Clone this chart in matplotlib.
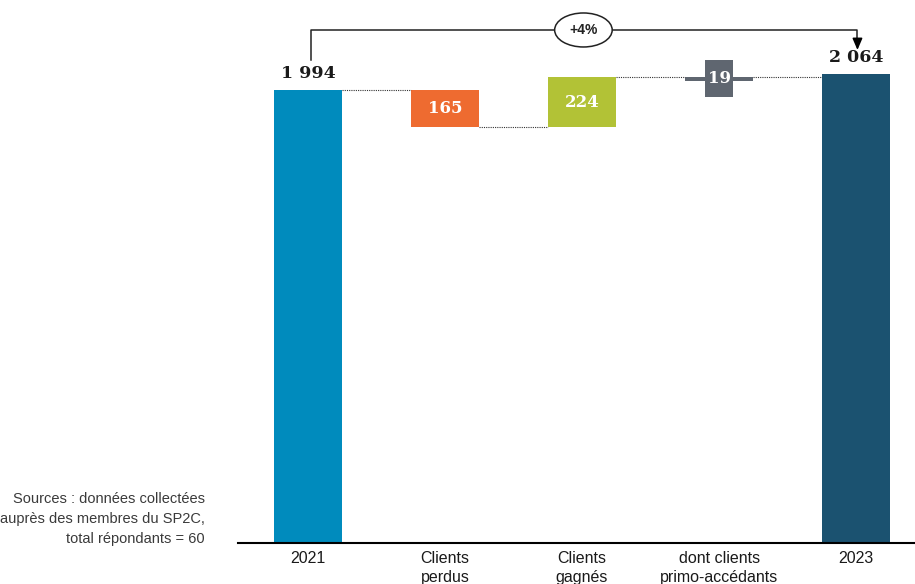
import matplotlib
matplotlib.use("Agg")
import matplotlib.pyplot as plt
from matplotlib.patches import Ellipse, Rectangle

# Waterfall: clients 2021 -> 2023
categories = ["2021", "Clients\nperdus", "Clients\ngagnés", "dont clients\nprimo-accédants", "2023"]
start_total = 1994
lost = 165
gained = 224
first_time = 19
end_total = 2064
growth_label = "+4%"
source_note = "Sources : données collectées\nauprès des membres du SP2C,\ntotal répondants = 60"

C_START = "#008bbd"
C_LOST = "#ee6b30"
C_GAINED = "#b2c236"
C_FIRST = "#5f6670"
C_END = "#1b5270"

SANS = ["Liberation Sans", "DejaVu Sans"]
SERIF = ["DejaVu Serif"]
PX = 0.2272  # pixels per unit on the value axis


def fmt(v):
    return f"{v:,}".replace(",", " ")


fig = plt.figure(figsize=(9.15, 5.84), dpi=100)
ax = fig.add_axes([238 / 915, 41 / 584, 1 - 238 / 915, 543 / 584])
ax.set_xlim(-0.511, 4.43)
ax.set_ylim(0, 543 / PX)
ax.axis("off")

w = 0.5
after_lost = start_total - lost
after_gained = after_lost + gained

ax.bar(0, start_total, width=w, color=C_START)
ax.bar(1, lost, bottom=after_lost, width=w, color=C_LOST)
ax.bar(2, gained, bottom=after_lost, width=w, color=C_GAINED)
ax.bar(3, first_time, bottom=after_gained - first_time, width=w, color=C_FIRST)
ax.bar(4, end_total, width=w, color=C_END)

# dotted connectors between steps
conn = dict(color="#333333", lw=0.8, ls=(0, (1, 1)))
ax.plot([0 + w / 2, 1 - w / 2], [start_total] * 2, **conn)
ax.plot([1 + w / 2, 2 - w / 2], [after_lost] * 2, **conn)
ax.plot([2 + w / 2, 3 - w / 2], [after_gained] * 2, **conn)
ax.plot([3 + w / 2, 4 - w / 2], [after_gained] * 2, **conn)

# baseline
ax.plot([-0.511, 4.43], [0, 0], color="black", lw=1.5, clip_on=False)

# totals above the end bars
for x, v in [(0, start_total), (4, end_total)]:
    ax.annotate(fmt(v), (x, v), xytext=(0, 6), textcoords="offset points",
                ha="center", va="bottom", fontsize=12.5, fontweight="bold",
                family=SERIF, color="#1a1a1a")

# step values inside the bars
ax.text(1, after_lost + lost / 2, str(lost), ha="center", va="center",
        fontsize=12, fontweight="bold", family=SERIF, color="white")
ax.text(2, after_lost + gained / 2, str(gained), ha="center", va="center",
        fontsize=12, fontweight="bold", family=SERIF, color="white")
mid = after_gained - first_time / 2
ax.add_patch(Rectangle((3 - 0.105, mid - 82), 0.21, 164, fc=C_FIRST, ec="none",
                       zorder=3))
ax.text(3, mid, str(first_time), ha="center", va="center", fontsize=12,
        fontweight="bold", family=SERIF, color="white", zorder=4)

# growth bracket
ytop = 2258
ax.plot([0.02, 0.02, 4.01, 4.01], [2128, ytop, ytop, 2215], color="#222222",
        lw=1.1, clip_on=False)
ax.annotate("", xy=(4.01, 2170), xytext=(4.01, 2220),
            arrowprops=dict(arrowstyle="-|>,head_width=0.3,head_length=0.7",
                            color="black", lw=1.1, shrinkA=0, shrinkB=0),
            annotation_clip=False)
ax.add_patch(Ellipse((2.01, ytop), 0.42, 34 / PX, fc="white", ec="#222222",
                     lw=1.1, clip_on=False, zorder=3))
ax.text(2.01, ytop, growth_label, ha="center", va="center", fontsize=10,
        fontweight="bold", family=SANS, color="#222222", zorder=4)

# category labels
for i, lab in enumerate(categories):
    ax.text(i, -34, lab, ha="center", va="top", fontsize=11.5, family=SANS,
            color="#1a1a1a", linespacing=1.35, clip_on=False)

fig.text(205 / 915, 1 - 492 / 584, source_note, ha="right", va="top",
         fontsize=10.5, family=SANS, color="#3a3a3a", linespacing=1.55)

fig.savefig("out.png", dpi=100)
